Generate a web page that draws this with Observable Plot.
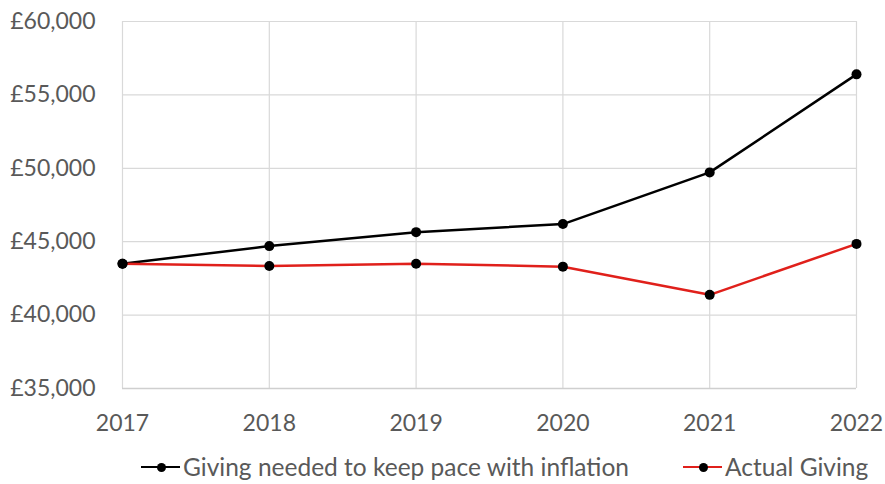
<!DOCTYPE html>
<html>
<head>
<meta charset="utf-8">
<script src="https://cdn.jsdelivr.net/npm/d3@7"></script>
<script src="https://cdn.jsdelivr.net/npm/@observablehq/plot@0.6"></script>
<style>
  body { margin: 0; background: #fff; font-family: Lato, "Open Sans", sans-serif; overflow: hidden; }
  #legend { position: relative; height: 36px; font-size: 24.5px; color: #595959; }
  .item { position: absolute; top: 0; height: 36px; display: flex; align-items: center; white-space: nowrap; line-height: 1.15; }
  .sw { position: relative; width: 39px; height: 10px; margin-right: 3px; }
  .sw .ln { position: absolute; left: 0; right: 0; top: 3.75px; height: 2.5px; }
  .sw .dt { position: absolute; left: 15.5px; top: 0.5px; width: 9px; height: 9px; border-radius: 50%; background: #000; }
</style>
</head>
<body>
<div id="chart"></div>
<div id="legend"></div>
<script>
const years = [2017, 2018, 2019, 2020, 2021, 2022];
const needed = [43500, 44700, 45650, 46200, 49720, 56400];
const actual = [43500, 43350, 43500, 43300, 41380, 44850];
const seriesNames = ["Giving needed to keep pace with inflation", "Actual Giving"];
const seriesColors = ["#000000", "#e0201b"];
const yTicks = [35000, 40000, 45000, 50000, 55000, 60000];

const data = [];
years.forEach((y, i) => data.push({year: y, value: needed[i], series: seriesNames[0]}));
years.forEach((y, i) => data.push({year: y, value: actual[i], series: seriesNames[1]}));

const fmtY = d => "£" + d3.format(",")(d);

const chart = Plot.plot({
  width: 885,
  height: 449,
  marginLeft: 122,
  marginRight: 29,
  marginTop: 21,
  marginBottom: 61,
  style: {fontFamily: "Lato, 'Open Sans', sans-serif", fontSize: "23px", color: "#595959", background: "#fff"},
  x: {domain: [2017, 2022], ticks: years, tickFormat: d => String(d), label: null},
  y: {domain: [35000, 60000], ticks: yTicks, tickFormat: fmtY, label: null},
  color: {domain: seriesNames, range: seriesColors},
  marks: [
    Plot.gridX(years, {stroke: "#d9d9d9", strokeOpacity: 1, strokeWidth: 1.2}),
    Plot.gridY(yTicks, {stroke: "#d9d9d9", strokeOpacity: 1, strokeWidth: 1.2}),
    Plot.ruleY([35000], {stroke: "#cfcfcf", strokeWidth: 1.5}),
    Plot.axisX({ticks: years, tickSize: 0, tickPadding: 26, fontSize: 23, fill: "#595959", tickFormat: d => String(d)}),
    Plot.axisY({ticks: yTicks, tickSize: 0, tickPadding: 27, fontSize: 23, fill: "#595959", tickFormat: fmtY}),
    Plot.line(data, {x: "year", y: "value", z: "series", stroke: "series", strokeWidth: 2.5}),
    Plot.dot(data, {x: "year", y: "value", r: 5, fill: "#000"})
  ]
});
chart.style.display = "block";
document.getElementById("chart").appendChild(chart);

const legend = document.getElementById("legend");
const legendX = [141, 683];
seriesNames.forEach((name, i) => {
  const item = document.createElement("div");
  item.className = "item";
  item.style.left = legendX[i] + "px";
  item.innerHTML = `<div class="sw"><div class="ln" style="background:${seriesColors[i]}"></div><div class="dt"></div></div><span>${name}</span>`;
  legend.appendChild(item);
});
</script>
</body>
</html>
